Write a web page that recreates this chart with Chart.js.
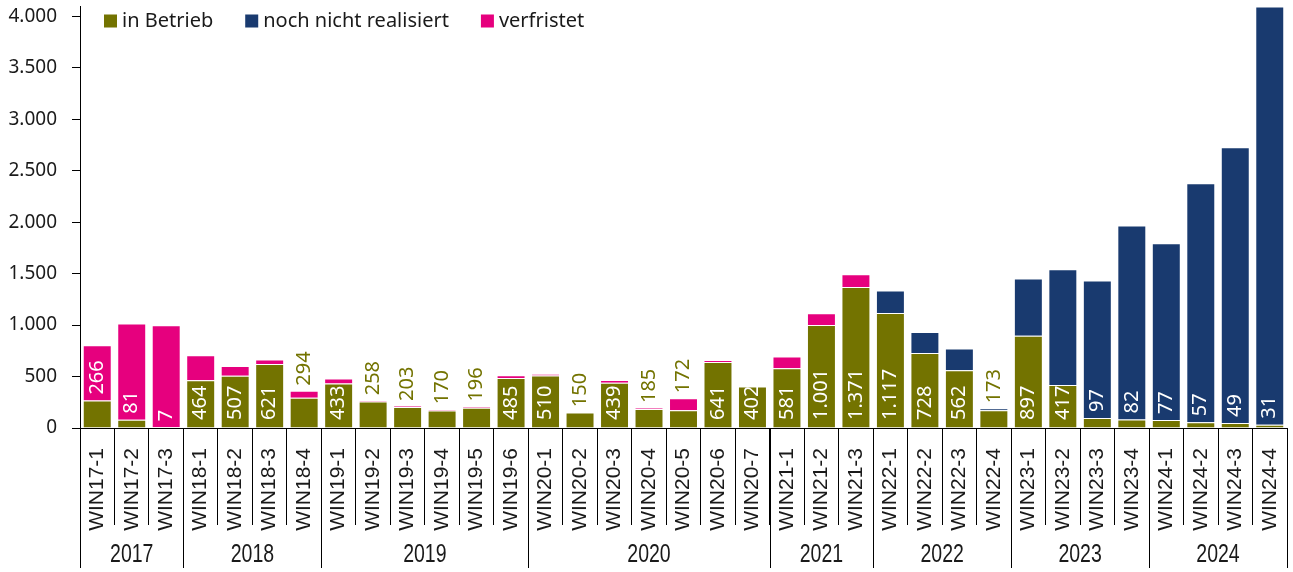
<!DOCTYPE html>
<html>
<head>
<meta charset="utf-8">
<script src="https://cdn.jsdelivr.net/npm/chart.js@4.4.1/dist/chart.umd.min.js"></script>
<style>
  html, body { margin: 0; padding: 0; background: #fff; }
  #wrap { width: 1293px; height: 572px; }
</style>
</head>
<body>
<div id="wrap"><canvas id="myChart" width="1293" height="572"></canvas></div>
<script>
/* globals Chart:false */
const categories = [
  "WIN17-1", "WIN17-2", "WIN17-3",
  "WIN18-1", "WIN18-2", "WIN18-3", "WIN18-4",
  "WIN19-1", "WIN19-2", "WIN19-3", "WIN19-4", "WIN19-5", "WIN19-6",
  "WIN20-1", "WIN20-2", "WIN20-3", "WIN20-4", "WIN20-5", "WIN20-6", "WIN20-7",
  "WIN21-1", "WIN21-2", "WIN21-3",
  "WIN22-1", "WIN22-2", "WIN22-3", "WIN22-4",
  "WIN23-1", "WIN23-2", "WIN23-3", "WIN23-4",
  "WIN24-1", "WIN24-2", "WIN24-3", "WIN24-4",
];
const inBetrieb = [
  266, 81, 7,
  464, 507, 621, 294,
  433, 258, 203, 170, 196, 485,
  510, 150, 439, 185, 172, 641, 402,
  581, 1001, 1371,
  1117, 728, 562, 173,
  897, 417, 97, 82,
  77, 57, 49, 31,
];
const nochNichtRealisiert = [
  0, 0, 0,
  0, 0, 0, 0,
  0, 0, 0, 0, 0, 0,
  0, 0, 0, 0, 0, 0, 0,
  0, 0, 0,
  218, 205, 210, 18,
  555, 1125, 1335, 1885,
  1718, 2321, 2679, 4065,
];
const verfristet = [
  538, 934, 991,
  243, 96, 44, 68,
  47, 11, 11, 12, 12, 27,
  15, 3, 27, 9, 117, 20, 0,
  113, 114, 123,
  0, 0, 0, 0,
  0, 0, 0, 0,
  0, 0, 0, 0,
];
const yearLabels = ["2017", "2018", "2019", "2020", "2021", "2022", "2023", "2024"];
const yearCounts = [3, 4, 6, 7, 3, 4, 4, 4];
const yTicks = [0, 500, 1000, 1500, 2000, 2500, 3000, 3500, 4000];

const OLIVE = "#737300";
const NAVY = "#193a6f";
const PINK = "#e6007e";
const TEXT = "#1a1a1a";

const fmt = (v) => String(v).replace(/\B(?=(\d{3})+(?!\d))/g, ".");

// legend drawn inside the plot, top left
const legendPlugin = {
  id: "innerLegend",
  afterDraw(chart) {
    const ctx = chart.ctx;
    const area = chart.chartArea;
    let x = area.left + 24;
    const y = 21;
    ctx.save();
    ctx.font = "20px 'Noto Sans'";
    ctx.textBaseline = "middle";
    ctx.textAlign = "left";
    chart.data.datasets.forEach((ds) => {
      ctx.fillStyle = ds.backgroundColor;
      ctx.fillRect(x, y - 6.5, 13, 13);
      ctx.fillStyle = TEXT;
      ctx.fillText(ds.label, x + 18, y);
      x += 18 + ctx.measureText(ds.label).width + 32;
    });
    ctx.restore();
  },
};

// year groups under the category labels
const yearPlugin = {
  id: "yearGroups",
  afterDraw(chart) {
    const ctx = chart.ctx;
    const xs = chart.scales.x;
    const half = (xs.getPixelForValue(1) - xs.getPixelForValue(0)) / 2;
    const top = chart.chartArea.bottom;
    ctx.save();
    ctx.strokeStyle = "#000";
    ctx.lineWidth = 1;
    let start = 0;
    yearCounts.forEach((n, g) => {
      const end = start + n - 1;
      const x0 = xs.getPixelForValue(start) - half;
      const x1 = xs.getPixelForValue(end) + half;
      const edges = g === yearCounts.length - 1 ? [x0, x1] : [x0];
      edges.forEach((ex) => {
        const px = Math.round(ex) + 0.5;
        ctx.beginPath();
        ctx.moveTo(px, top);
        ctx.lineTo(px, top + 140);
        ctx.stroke();
      });
      // narrow look: squeeze the text horizontally
      ctx.save();
      ctx.translate((x0 + x1) / 2, 555);
      ctx.scale(0.78, 1);
      ctx.fillStyle = TEXT;
      ctx.font = "25px 'Liberation Sans'";
      ctx.textAlign = "center";
      ctx.textBaseline = "middle";
      ctx.fillText(yearLabels[g], 0, 0);
      ctx.restore();
      start += n;
    });
    ctx.restore();
  },
};

// rotated value labels for "in Betrieb"
const valuePlugin = {
  id: "valueLabels",
  afterDatasetsDraw(chart) {
    const ctx = chart.ctx;
    const ys = chart.scales.y;
    const meta = chart.getDatasetMeta(0);
    const base = ys.getPixelForValue(0);
    ctx.save();
    ctx.font = "20px 'Noto Sans'";
    ctx.textBaseline = "middle";
    ctx.textAlign = "left";
    inBetrieb.forEach((v, i) => {
      const text = fmt(v);
      const w = ctx.measureText(text).width;
      const x = meta.data[i].x;
      const greenTop = ys.getPixelForValue(v);
      const total = v + nochNichtRealisiert[i] + verfristet[i];
      const totalTop = ys.getPixelForValue(total);
      let y, color;
      if (base - greenTop >= w + 6) {
        y = base - 8;
        color = "#fff";
      } else if (greenTop - totalTop >= w + 10) {
        y = greenTop - 6;
        color = "#fff";
      } else {
        y = totalTop - 5;
        color = OLIVE;
      }
      ctx.save();
      ctx.translate(x, y);
      ctx.rotate(-Math.PI / 2);
      ctx.fillStyle = color;
      ctx.fillText(text, 0, 0);
      ctx.restore();
    });
    ctx.restore();
  },
};

const canvas = document.getElementById("myChart");
const ctx = canvas.getContext("2d");
new Chart(ctx, {
  type: "bar",
  data: {
    labels: categories,
    datasets: [
      {
        label: "in Betrieb",
        data: inBetrieb,
        backgroundColor: OLIVE,
        borderColor: "rgba(255, 255, 255, 0.55)",
        borderWidth: 1,
      },
      {
        label: "noch nicht realisiert",
        data: nochNichtRealisiert,
        backgroundColor: NAVY,
        borderColor: "rgba(255, 255, 255, 0.55)",
        borderWidth: 1,
      },
      {
        label: "verfristet",
        data: verfristet,
        backgroundColor: PINK,
        borderColor: "rgba(255, 255, 255, 0.55)",
        borderWidth: 1,
      },
    ],
  },
  options: {
    responsive: false,
    animation: false,
    layout: { padding: { top: 6, right: 6, left: 0, bottom: 0 } },
    datasets: {
      bar: { categoryPercentage: 1, barPercentage: 0.84 },
    },
    plugins: {
      legend: { display: false },
      tooltip: { enabled: false },
    },
    scales: {
      x: {
        stacked: true,
        afterFit: (scale) => {
          scale.height = 144;
          scale.paddingLeft = 0;
          scale.paddingRight = 0;
        },
        border: { color: "#000", width: 1 },
        grid: {
          offset: true,
          drawOnChartArea: false,
          tickLength: 97,
          color: "#000",
        },
        ticks: {
          autoSkip: false,
          minRotation: 90,
          maxRotation: 90,
          padding: -77,
          color: TEXT,
          font: { family: "'Liberation Sans'", size: 21 },
        },
      },
      y: {
        stacked: true,
        min: 0,
        max: 4100,
        afterFit: (scale) => {
          scale.width = 80;
          scale.paddingTop = 0;
          scale.paddingBottom = 0;
        },
        afterBuildTicks: (scale) => {
          scale.ticks = yTicks.map((v) => ({ value: v }));
        },
        border: { color: "#000", width: 1 },
        grid: {
          drawOnChartArea: false,
          tickLength: 8,
          color: "#000",
        },
        ticks: {
          padding: 15,
          color: TEXT,
          font: { family: "'Noto Sans'", size: 19 },
          callback: (v) => fmt(v),
        },
      },
    },
  },
  plugins: [legendPlugin, yearPlugin, valuePlugin],
});
</script>
</body>
</html>
